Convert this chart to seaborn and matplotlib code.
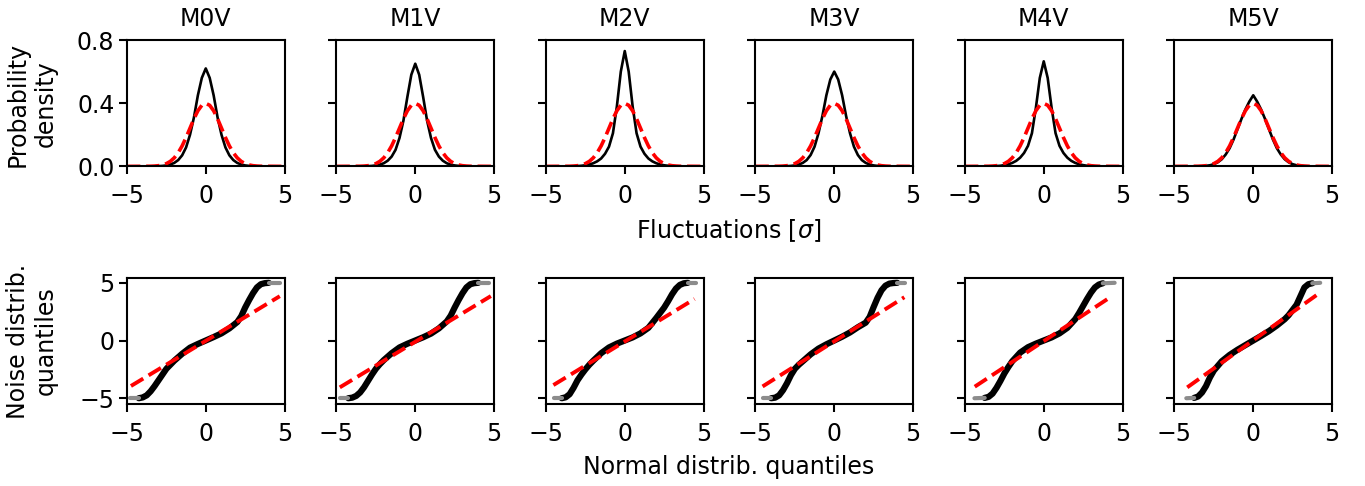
import numpy as np
import matplotlib
matplotlib.use("Agg")
import matplotlib.pyplot as plt
import seaborn as sns

sns.set_style("ticks")
plt.rcParams['font.family'] = ['DejaVu Sans']
plt.rcParams.update({"text.color": "black", "axes.labelcolor": "black",
                     "xtick.color": "black", "ytick.color": "black"})

# ---------------- data ----------------
spectral_types = ["M0V", "M1V", "M2V", "M3V", "M4V", "M5V"]

hist_x = [-5.0, -3.5, -3.25, -3.0, -2.75, -2.5, -2.25, -2.0, -1.75, -1.5, -1.25, -1.0,
          -0.75, -0.5, -0.25, 0.0, 0.25, 0.5, 0.75, 1.0, 1.25, 1.5, 1.75, 2.0, 2.25,
          2.5, 2.75, 3.0, 3.25, 3.5, 5.0]

dens_M0V = [0, 0, 0.0005, 0.0015, 0.003, 0.006, 0.012, 0.022, 0.04, 0.07, 0.12, 0.20, 0.31, 0.45, 0.56,
            0.62,
            0.56, 0.45, 0.31, 0.20, 0.12, 0.07, 0.04, 0.022, 0.012, 0.006, 0.003, 0.0015, 0.0005, 0, 0]
dens_M1V = [0, 0, 0.0005, 0.0015, 0.003, 0.006, 0.011, 0.02, 0.036, 0.062, 0.105, 0.18, 0.29, 0.44, 0.58,
            0.65,
            0.58, 0.44, 0.29, 0.18, 0.105, 0.062, 0.036, 0.02, 0.011, 0.006, 0.003, 0.0015, 0.0005, 0, 0]
dens_M2V = [0, 0.0005, 0.001, 0.002, 0.004, 0.007, 0.012, 0.02, 0.032, 0.05, 0.08, 0.125, 0.21, 0.38, 0.60,
            0.73,
            0.60, 0.38, 0.21, 0.125, 0.08, 0.05, 0.032, 0.02, 0.012, 0.007, 0.004, 0.002, 0.001, 0.0005, 0]
dens_M3V = [0, 0, 0.0005, 0.0015, 0.003, 0.006, 0.012, 0.022, 0.04, 0.072, 0.125, 0.21, 0.32, 0.45, 0.55,
            0.60,
            0.55, 0.45, 0.32, 0.21, 0.125, 0.072, 0.04, 0.022, 0.012, 0.006, 0.003, 0.0015, 0.0005, 0, 0]
dens_M4V = [0, 0.0005, 0.001, 0.002, 0.004, 0.008, 0.013, 0.022, 0.035, 0.055, 0.085, 0.13, 0.21, 0.37, 0.56,
            0.665,
            0.56, 0.37, 0.21, 0.13, 0.085, 0.055, 0.035, 0.022, 0.013, 0.008, 0.004, 0.002, 0.001, 0.0005, 0]
dens_M5V = [0, 0.0005, 0.0015, 0.0035, 0.007, 0.014, 0.026, 0.045, 0.075, 0.115, 0.17, 0.235, 0.30, 0.36, 0.41,
            0.45,
            0.41, 0.36, 0.30, 0.235, 0.17, 0.115, 0.075, 0.045, 0.026, 0.014, 0.007, 0.0035, 0.0015, 0.0005, 0]
densities = [dens_M0V, dens_M1V, dens_M2V, dens_M3V, dens_M4V, dens_M5V]

normal_pdf = [0.0, 0.0009, 0.0020, 0.0044, 0.0091, 0.0175, 0.0317, 0.0540, 0.0863, 0.1295, 0.1826, 0.2420,
              0.3011, 0.3521, 0.3867, 0.3989, 0.3867, 0.3521, 0.3011, 0.2420, 0.1826, 0.1295, 0.0863,
              0.0540, 0.0317, 0.0175, 0.0091, 0.0044, 0.0020, 0.0009, 0.0]

qq_x_M0V = [-4.8, -4.25, -4.0, -3.75, -3.5, -3.25, -3.0, -2.75, -2.5, -2.25, -2.0, -1.5, -1.0, -0.5,
            0.0, 0.5, 1.0, 1.5, 2.0, 2.25, 2.5, 2.75, 3.0, 3.25, 3.5, 3.75, 4.0, 4.7]
qq_y_M0V = [-5.0, -5.0, -4.93, -4.75, -4.4, -3.95, -3.45, -2.95, -2.45, -2.1, -1.75, -1.15, -0.62, -0.3,
            0.0, 0.3, 0.62, 1.05, 1.6, 2.1, 2.85, 3.5, 4.1, 4.6, 4.88, 4.97, 5.0, 5.0]
qq_x_M1V = [-4.8, -4.25, -4.0, -3.75, -3.5, -3.25, -3.0, -2.75, -2.5, -2.25, -2.0, -1.5, -1.0, -0.5,
            0.0, 0.5, 1.0, 1.5, 2.0, 2.25, 2.5, 2.75, 3.0, 3.25, 3.5, 3.75, 4.0, 4.7]
qq_y_M1V = [-5.0, -5.0, -4.95, -4.8, -4.5, -4.05, -3.5, -2.95, -2.45, -2.05, -1.7, -1.1, -0.6, -0.28,
            0.0, 0.28, 0.6, 1.05, 1.65, 2.15, 2.85, 3.5, 4.1, 4.6, 4.88, 4.97, 5.0, 5.0]
qq_x_M2V = [-4.5, -4.0, -3.75, -3.5, -3.25, -3.0, -2.75, -2.5, -2.25, -2.0, -1.5, -1.0, -0.5,
            0.0, 0.5, 1.0, 1.5, 2.0, 2.25, 2.5, 2.75, 3.0, 3.25, 3.5, 3.75, 4.0, 4.5]
qq_y_M2V = [-5.0, -5.0, -4.92, -4.65, -4.1, -3.45, -2.95, -2.5, -2.1, -1.75, -1.1, -0.6, -0.27,
            0.0, 0.27, 0.62, 1.1, 1.95, 2.4, 2.85, 3.4, 4.0, 4.5, 4.82, 4.96, 5.0, 5.0]
qq_x_M3V = [-4.5, -4.0, -3.75, -3.5, -3.25, -3.0, -2.75, -2.5, -2.25, -2.0, -1.5, -1.0, -0.5,
            0.0, 0.5, 1.0, 1.5, 2.0, 2.25, 2.5, 2.75, 3.0, 3.25, 3.5, 3.75, 4.0, 4.5]
qq_y_M3V = [-5.0, -5.0, -4.95, -4.75, -4.3, -3.7, -3.0, -2.45, -2.1, -1.8, -1.2, -0.7, -0.33,
            0.0, 0.33, 0.7, 1.15, 1.55, 2.05, 2.9, 3.7, 4.35, 4.75, 4.93, 4.98, 5.0, 5.0]
qq_x_M4V = [-4.4, -3.75, -3.5, -3.25, -3.0, -2.75, -2.5, -2.25, -2.0, -1.5, -1.0, -0.5,
            0.0, 0.5, 1.0, 1.5, 2.0, 2.25, 2.5, 2.75, 3.0, 3.25, 3.5, 3.75, 4.5]
qq_y_M4V = [-5.0, -4.97, -4.88, -4.6, -4.1, -3.5, -2.85, -2.3, -1.8, -1.05, -0.58, -0.27,
            0.0, 0.27, 0.62, 1.1, 1.85, 2.4, 3.0, 3.6, 4.15, 4.6, 4.85, 4.96, 5.0]
qq_x_M5V = [-4.25, -3.75, -3.5, -3.25, -3.0, -2.75, -2.5, -2.25, -2.0, -1.5, -1.0, -0.5,
            0.0, 0.5, 1.0, 1.5, 2.0, 2.25, 2.5, 2.75, 3.0, 3.25, 3.5, 3.75, 4.25]
qq_y_M5V = [-5.0, -4.97, -4.85, -4.5, -3.95, -3.2, -2.6, -2.2, -1.8, -1.25, -0.8, -0.4,
            0.0, 0.4, 0.82, 1.3, 1.85, 2.2, 2.65, 3.1, 3.85, 4.6, 4.88, 4.96, 5.0]
qq_x = [qq_x_M0V, qq_x_M1V, qq_x_M2V, qq_x_M3V, qq_x_M4V, qq_x_M5V]
qq_y = [qq_y_M0V, qq_y_M1V, qq_y_M2V, qq_y_M3V, qq_y_M4V, qq_y_M5V]

fit_x = [[-4.75, 4.7], [-4.79, 4.8], [-4.53, 4.43], [-4.55, 4.45], [-4.38, 4.32], [-4.19, 4.19]]
fit_y = [[-3.94, 3.84], [-4.06, 3.85], [-3.86, 3.6], [-3.98, 3.75], [-4.0, 3.84], [-4.06, 4.1]]

# ---------------- figure ----------------
FS = 17
fig, axes = plt.subplots(2, 6, figsize=(13.65, 4.86), dpi=100)
fig.subplots_adjust(left=127/1365, right=1332/1365, top=1-40/486, bottom=1-404/486,
                    wspace=0.33, hspace=0.88)

for i, name in enumerate(spectral_types):
    ax = axes[0, i]
    sns.lineplot(x=hist_x, y=densities[i], ax=ax, color="black", lw=1.9, sort=False)
    sns.lineplot(x=hist_x, y=normal_pdf, ax=ax, color="red", lw=2.6, ls="--", sort=False)
    ax.set_xlim(-5, 5)
    ax.set_ylim(0, 0.8)
    ax.set_xticks([-5, 0, 5])
    ax.set_yticks([0.0, 0.4, 0.8])
    ax.set_title(name, fontsize=FS, pad=10, color="black")
    if i == 0:
        ax.set_yticklabels(["0.0", "0.4", "0.8"])
    else:
        ax.set_yticklabels([])

    ax2 = axes[1, i]
    xs, ys = qq_x[i], qq_y[i]
    sns.lineplot(x=xs[1:-1], y=ys[1:-1], ax=ax2, color="black", lw=4.5, sort=False)
    sns.lineplot(x=xs[:2], y=ys[:2], ax=ax2, color="0.55", lw=3, sort=False)
    sns.lineplot(x=xs[-2:], y=ys[-2:], ax=ax2, color="0.55", lw=3, sort=False)
    sns.lineplot(x=fit_x[i], y=fit_y[i], ax=ax2, color="red", lw=2.8, ls="--", sort=False)
    ax2.set_xlim(-5, 5)
    ax2.set_ylim(-5.5, 5.45)
    ax2.set_xticks([-5, 0, 5])
    ax2.set_yticks([-5, 0, 5])
    if i != 0:
        ax2.set_yticklabels([])

for ax in axes.flat:
    for s in ax.spines.values():
        s.set_linewidth(1.5)
        s.set_color("black")
    ax.tick_params(length=6, width=1.5, labelsize=FS, colors="black")
    ax.tick_params(axis="x", pad=7)
    ax.tick_params(axis="y", pad=3)
    ax.set_xlabel("")
    ax.set_ylabel("")

fig.text(32/1365, 1-104/486, "Probability\ndensity", rotation=90, ha="center", va="center",
         fontsize=FS, multialignment="center", color="black")
fig.text(32/1365, 1-341/486, "Noise distrib.\nquantiles", rotation=90, ha="center", va="center",
         fontsize=FS, multialignment="center", color="black")
fig.text(729/1365, 1-231/486, r"Fluctuations [$\sigma$]", ha="center", va="center",
         fontsize=FS, color="black")
fig.text(729/1365, 1-467/486, "Normal distrib. quantiles", ha="center", va="center",
         fontsize=FS, color="black")

fig.savefig("out.png", dpi=100)
